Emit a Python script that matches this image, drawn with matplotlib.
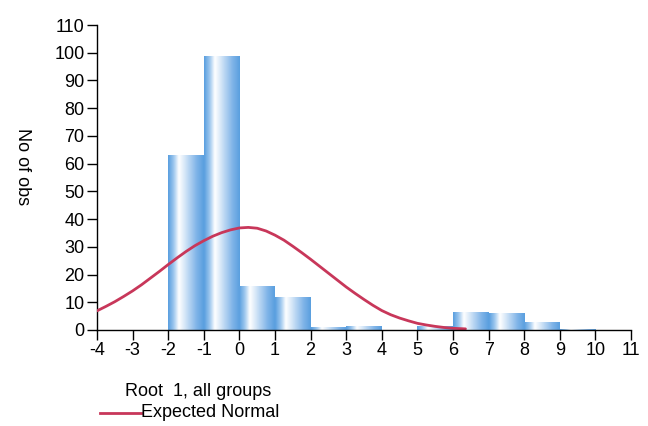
import matplotlib
matplotlib.use('Agg')
import matplotlib.pyplot as plt
import numpy as np
from matplotlib.colors import LinearSegmentedColormap

plt.rcParams['font.family'] = ['Liberation Sans', 'DejaVu Sans']

# histogram bins (left edges, width 1) and counts
bin_left = [-2, -1, 0, 1, 2, 3, 4, 5, 6, 7, 8, 9]
counts = [63, 99, 16, 12, 1, 1.5, 0, 1.5, 6.5, 6.2, 2.8, 0.4]

# expected normal curve
curve_x = [-4, -3.75, -3.5, -3.25, -3, -2.75, -2.5, -2.25, -2, -1.75, -1.5, -1.25,
           -1, -0.75, -0.5, -0.25, 0, 0.25, 0.5, 0.75, 1, 1.25, 1.5, 1.75,
           2, 2.25, 2.5, 2.75, 3, 3.25, 3.5, 3.75, 4, 4.25, 4.5, 4.75,
           5, 5.25, 5.5, 5.75, 6, 6.35]
curve_y = [6.9, 8.5, 10.2, 12.1, 14.1, 16.3, 18.7, 21.1, 23.6, 26.0, 28.3, 30.4,
           32.2, 33.8, 35.1, 36.1, 36.8, 37.0, 36.7, 35.7, 34.2, 32.4, 30.2, 27.9,
           25.5, 23.0, 20.5, 18.0, 15.5, 13.2, 11.0, 8.9, 7.0, 5.5, 4.3, 3.3,
           2.4, 1.8, 1.3, 0.9, 0.6, 0.4]

xticks = list(range(-4, 12))
yticks = list(range(0, 111, 10))

fig = plt.figure(figsize=(6.48, 4.26), dpi=100)
ax = fig.add_axes([0.1497, 0.2254, 0.8241, 0.7159])

cmap = LinearSegmentedColormap.from_list('barfill', [
    (0.0, '#5a9fdf'), (0.15, '#9cc6ee'), (0.3, '#ffffff'), (0.42, '#e2eefa'),
    (0.8, '#80b4e8'), (1.0, '#5a9fdf')])
grad = np.linspace(0, 1, 64).reshape(1, -1)

bars = ax.bar(bin_left, counts, width=1, align='edge', color='none', edgecolor='none')
for b in bars:
    if b.get_height() <= 0:
        continue
    x0, w, h = b.get_x(), b.get_width(), b.get_height()
    im = ax.imshow(grad, cmap=cmap, aspect='auto', extent=[x0, x0 + w, 0, h],
                   interpolation='bicubic', zorder=1)
    im.set_clip_path(b)

ax.plot(curve_x, curve_y, color='#c8375a', lw=2.0, zorder=3, solid_capstyle='round',
        solid_joinstyle='round')

ax.set_xlim(-4, 11)
ax.set_ylim(0, 110)
ax.set_xticks(xticks)
ax.set_yticks(yticks)
ax.set_xticklabels([str(v) for v in xticks])
ax.tick_params(axis='both', labelsize=13, length=7, width=1, direction='out', pad=2)
for s in ['top', 'right']:
    ax.spines[s].set_visible(False)
for s in ['left', 'bottom']:
    ax.spines[s].set_linewidth(1)
ax.spines['bottom'].set_zorder(4)

fig.text(0.034, 0.608, 'No of obs', rotation=270, ha='center', va='center', fontsize=13)
fig.text(0.193, 0.08, 'Root  1, all groups', ha='left', va='center', fontsize=13)
fig.lines.append(plt.Line2D([0.155, 0.217], [0.031, 0.031], transform=fig.transFigure,
                            color='#c8375a', lw=2.0))
fig.text(0.218, 0.031, 'Expected Normal', ha='left', va='center', fontsize=13)

fig.savefig('out.png', dpi=100)
